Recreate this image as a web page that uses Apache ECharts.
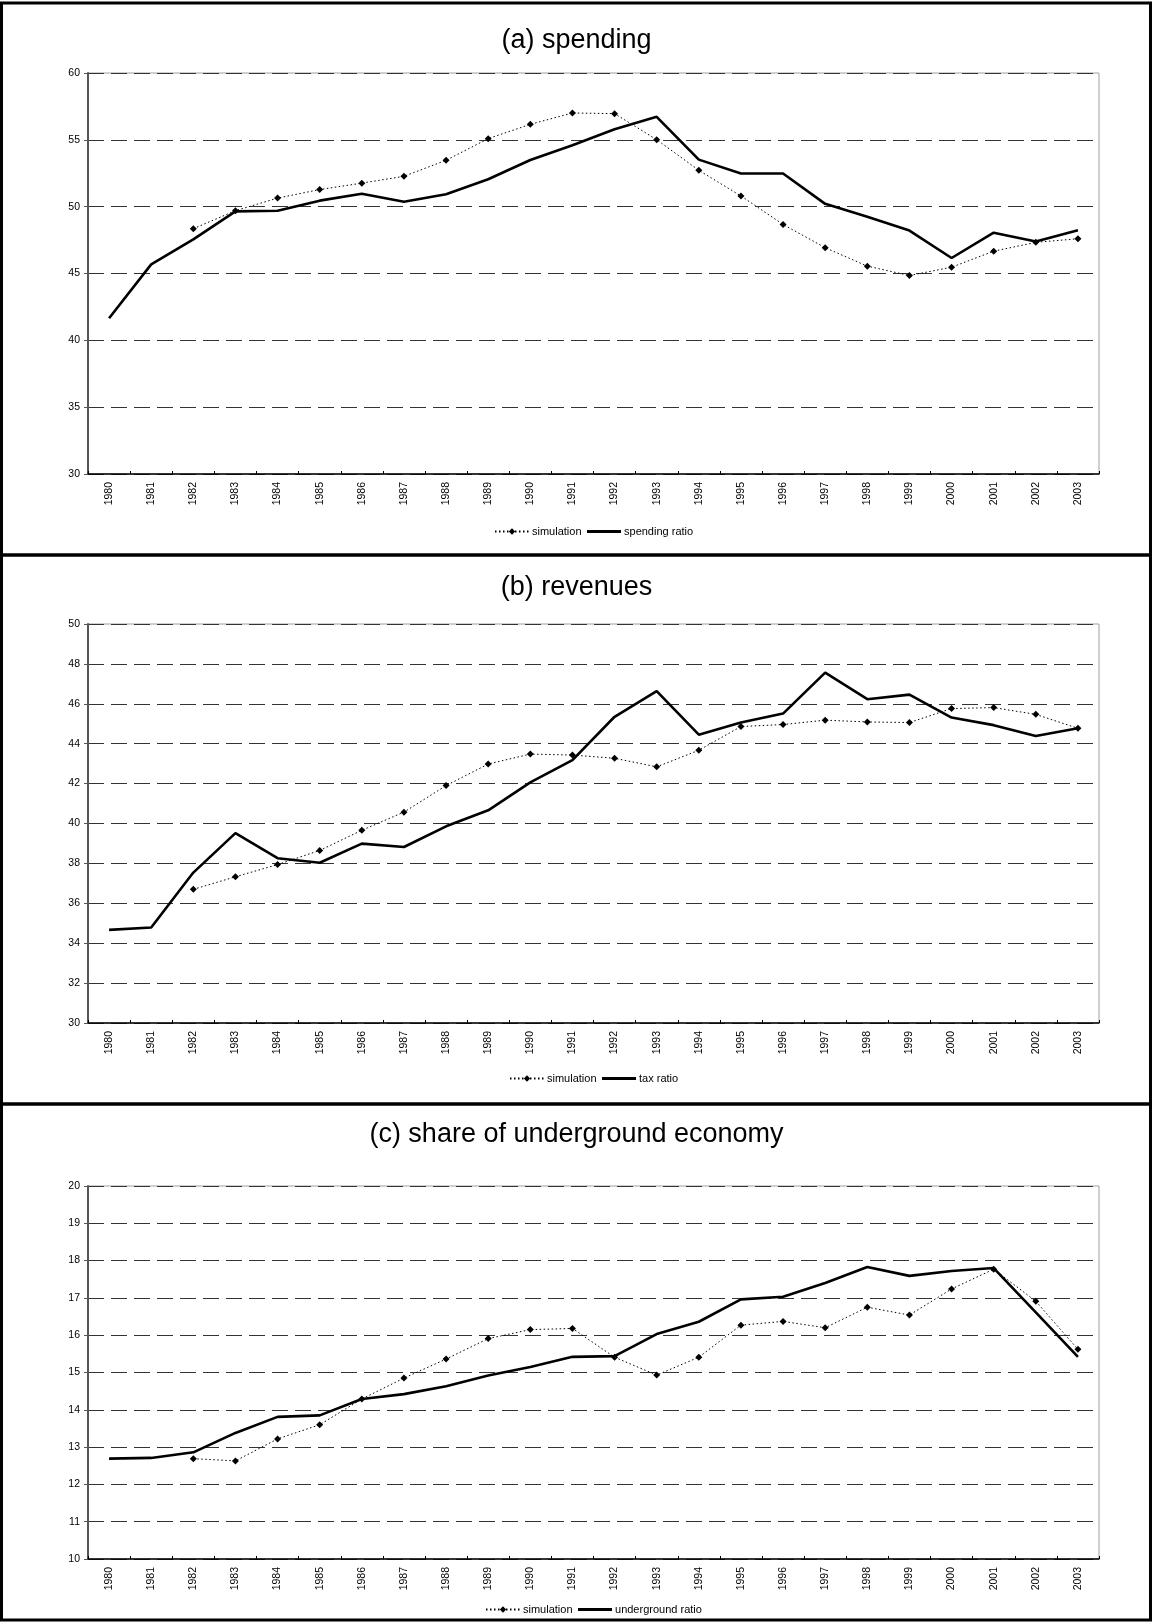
<!DOCTYPE html>
<html>
<head>
<meta charset="utf-8">
<style>
  html, body { margin: 0; padding: 0; background: #fff; }
  #chart { width: 1153px; height: 1623px; }
</style>
<script src="https://cdn.jsdelivr.net/npm/echarts@6/dist/echarts.min.js"></script>
</head>
<body>
<div id="chart"></div>
<script>
// Years on the horizontal axis of every panel
const years = ['1980','1981','1982','1983','1984','1985','1986','1987','1988','1989','1990','1991',
               '1992','1993','1994','1995','1996','1997','1998','1999','2000','2001','2002','2003'];

// (a) government spending, % of GDP
const spendingSimulation = [null, null, 48.35, 49.7, 50.64, 51.28, 51.76, 52.27, 53.47, 55.09, 56.16, 57.01,
                            56.96, 55.01, 52.72, 50.8, 48.67, 46.93, 45.55, 44.85, 45.47, 46.67, 47.33, 47.6];
const spendingRatio = [41.65, 45.68, 47.55, 49.65, 49.7, 50.45, 50.96, 50.37, 50.93, 52.05, 53.49, 54.59,
                       55.79, 56.72, 53.52, 52.48, 52.48, 50.21, 49.25, 48.21, 46.16, 48.05, 47.39, 48.24];

// (b) revenues, % of GDP
const revenueSimulation = [null, null, 36.7, 37.33, 37.94, 38.65, 39.66, 40.57, 41.9, 42.98, 43.48, 43.43,
                           43.27, 42.84, 43.67, 44.86, 44.96, 45.18, 45.09, 45.06, 45.76, 45.81, 45.47, 44.77];
const taxRatio = [34.67, 34.79, 37.54, 39.52, 38.26, 38.03, 38.99, 38.82, 39.86, 40.66, 42.06, 43.18,
                  45.35, 46.64, 44.45, 45.06, 45.51, 47.56, 46.23, 46.46, 45.31, 44.93, 44.39, 44.77];

// (c) underground economy, % of GDP
const undergroundSimulation = [null, null, 12.69, 12.63, 13.22, 13.6, 14.29, 14.85, 15.36, 15.91, 16.15, 16.18,
                               15.41, 14.93, 15.41, 16.27, 16.37, 16.2, 16.75, 16.54, 17.24, 17.77, 16.91, 15.62];
const undergroundRatio = [12.69, 12.71, 12.86, 13.38, 13.81, 13.85, 14.29, 14.42, 14.63, 14.92, 15.15, 15.42,
                          15.44, 16.03, 16.36, 16.96, 17.03, 17.4, 17.83, 17.59, 17.72, 17.8, 16.61, 15.42];

const panelTitles = ['(a) spending', '(b) revenues', '(c) share of underground economy'];
const simulationName = 'simulation';
const ratioNames = ['spending ratio', 'tax ratio', 'underground ratio'];
const yRanges = [[30, 60, 5], [30, 50, 2], [10, 20, 1]];

const simulationSeries = [spendingSimulation, revenueSimulation, undergroundSimulation];
const ratioSeries = [spendingRatio, taxRatio, undergroundRatio];

// Layout of the three stacked panels
const FONT = 'Liberation Sans, Arial, sans-serif';
const panels = [
  { gridTop: 73,   gridHeight: 401, titleTop: 22,   legendTop: 521,  boxTop: 3,    boxBottom: 555 },
  { gridTop: 624,  gridHeight: 399, titleTop: 569,  legendTop: 1068, boxTop: 555,  boxBottom: 1104 },
  { gridTop: 1186, gridHeight: 373, titleTop: 1116, legendTop: 1599, boxTop: 1104, boxBottom: 1620 }
];

const grid = [], xAxis = [], yAxis = [], series = [], title = [], legend = [], graphic = [];

panels.forEach((p, i) => {
  grid.push({
    left: 88, right: 54, top: p.gridTop, height: p.gridHeight,
    show: true, borderColor: '#a0a0a0', borderWidth: 1, backgroundColor: 'transparent'
  });
  xAxis.push({
    type: 'category', gridIndex: i, data: years, boundaryGap: true,
    axisLine: { show: true, lineStyle: { color: '#000', width: 1.5 } },
    axisTick: { show: true, inside: true, length: 3, lineStyle: { color: '#000', width: 1 } },
    axisLabel: { rotate: 90, fontSize: 10.5, color: '#000', fontFamily: FONT, margin: 8, interval: 0 },
    splitLine: { show: false }
  });
  yAxis.push({
    type: 'value', gridIndex: i, min: yRanges[i][0], max: yRanges[i][1], interval: yRanges[i][2],
    axisLine: { show: true, lineStyle: { color: '#555', width: 2 } },
    axisTick: { show: true, inside: false, length: 4, lineStyle: { color: '#555', width: 1 } },
    axisLabel: { fontSize: 10.5, color: '#000', fontFamily: FONT, margin: 8 },
    splitLine: { show: true, lineStyle: { color: '#333', width: 1, type: [16, 7] } }
  });
  series.push({
    name: simulationName + ' ' + i, type: 'line', xAxisIndex: i, yAxisIndex: i,
    data: simulationSeries[i], symbol: 'diamond', symbolSize: 7, showSymbol: true,
    itemStyle: { color: '#000' },
    lineStyle: { color: '#000', width: 1, type: [1.5, 2.5] },
    animation: false, z: 3
  });
  series.push({
    name: ratioNames[i], type: 'line', xAxisIndex: i, yAxisIndex: i,
    data: ratioSeries[i], symbol: 'none',
    lineStyle: { color: '#000', width: 2.6 },
    itemStyle: { color: '#000' },
    animation: false, z: 2
  });
  title.push({
    text: panelTitles[i], left: 'center', top: p.titleTop,
    textStyle: { fontSize: 27, fontWeight: 'normal', color: '#000', fontFamily: FONT }
  });
  legend.push({
    data: [
      { name: simulationName + ' ' + i },
      { name: ratioNames[i], itemStyle: { opacity: 0 }, lineStyle: { width: 3, color: '#000' } }
    ],
    formatter: name => name.startsWith(simulationName) ? simulationName : name,
    left: 593, top: p.legendTop,
    itemWidth: 34, itemHeight: 8, itemGap: 4,
    textStyle: { fontSize: 11, color: '#000', fontFamily: FONT, padding: [0, 0, 0, -2] },
    selectedMode: false
  });
  graphic.push({
    type: 'rect', silent: true,
    shape: { x: 1.5, y: p.boxTop, width: 1149, height: p.boxBottom - p.boxTop },
    style: { fill: 'none', stroke: '#000', lineWidth: 3 }
  });
});

const chart = echarts.init(document.getElementById('chart'), null, { renderer: 'canvas' });
chart.setOption({
  backgroundColor: '#fff',
  animation: false,
  title, legend, grid, xAxis, yAxis, series, graphic
});

// centre each legend under its plot once its width is known
const plotCenter = 88 + (1153 - 88 - 54) / 2;
const legendModels = chart.getModel().queryComponents({ mainType: 'legend' });
const newLegends = legendModels.map(m => {
  const rect = chart.getViewOfComponentModel(m).group.getBoundingRect();
  return { left: Math.round(plotCenter - rect.width / 2) };
});
chart.setOption({ legend: newLegends });
</script>
</body>
</html>
